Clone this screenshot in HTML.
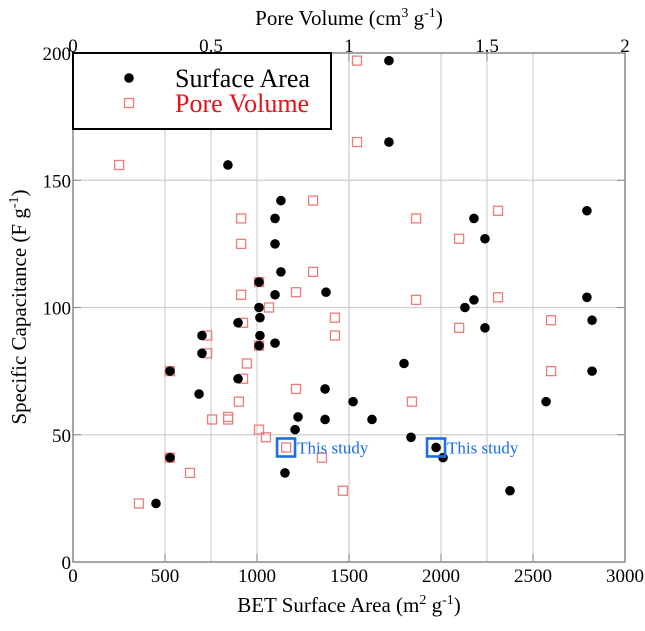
<!DOCTYPE html>
<html><head><meta charset="utf-8">
<style>
html,body{margin:0;padding:0;background:#fff;}
svg{display:block;font-family:"Liberation Serif",serif;}
</style></head>
<body>
<svg id="chart" width="645" height="631" viewBox="0 0 645 631" xmlns="http://www.w3.org/2000/svg">
<rect width="645" height="631" fill="#fff"/>
<g id="grid"></g>
<g id="marks"></g>
<g id="axes"></g>
<g>
<rect x="73" y="53" width="258" height="76" fill="#fff" stroke="#000" stroke-width="2"/>
<circle cx="129" cy="78" r="4.8" fill="#000"/>
<text x="175" y="87" font-size="26" fill="#000">Surface Area</text>
<rect x="124.5" y="98.5" width="9" height="9" fill="none" stroke="#ef7b7b" stroke-width="1.3"/>
<text x="175" y="112" font-size="26" fill="#e8101a">Pore Volume</text>
</g>
<text x="349" y="612" font-size="21" text-anchor="middle">BET Surface Area (m<tspan font-size="14" dy="-8">2</tspan><tspan dy="8"> g</tspan><tspan font-size="14" dy="-8">-1</tspan><tspan dy="8">)</tspan></text>
<text x="349" y="25" font-size="21" text-anchor="middle">Pore Volume (cm<tspan font-size="14" dy="-8">3</tspan><tspan dy="8"> g</tspan><tspan font-size="14" dy="-8">-1</tspan><tspan dy="8">)</tspan></text>
<text transform="translate(26,307) rotate(-90)" font-size="21" text-anchor="middle">Specific Capacitance (F g<tspan font-size="14" dy="-8">-1</tspan><tspan dy="8">)</tspan></text>
</svg>
<script>
const saX = [842,1130,1098,1098,1130,1011,1098,1375,1011,1016,897,701,1016,1098,701,1011,527,897,685,1370,1522,1223,1370,1207,527,1152,451,1717,1717,2179,2239,2793,2179,2130,2793,2821,2239,1799,2821,1625,2571,1837,1973,2011,2375];
const saY = [156,142,135,125,114,110,105,106,100,96,94,89,89,86,82,85,75,72,66,68,63,57,56,52,41,35,23,197,165,135,127,138,103,100,104,95,92,78,75,56,63,49,45,41,28];
const pvX = [0.167,0.870,0.609,0.609,0.870,0.674,0.609,0.808,0.710,0.949,0.616,0.949,0.486,0.486,0.674,0.630,0.351,0.616,0.601,0.808,0.504,0.562,0.562,0.674,0.699,0.772,0.902,0.351,0.424,0.239,0.978,1.029,1.029,1.243,1.540,1.399,1.243,1.540,1.732,1.399,1.732,1.228];
const pvY = [156,142,135,125,114,110,105,106,100,96,94,89,89,82,85,78,75,72,63,68,56,57,56,52,49,45,41,41,35,23,28,197,165,135,138,127,103,104,95,92,75,63];
const studySA = [1973, 45];
const studyPV = [0.772, 45];
const xTicks = [0,500,1000,1500,2000,2500,3000];
const topTicks = [0,0.5,1,1.5,2];
const yTicks = [0,50,100,150,200];

const L=73,R=625,T=53,B=562;
const xs = v => L + v/3000*(R-L);
const xp = v => L + v/2*(R-L);
const ys = v => B - v/200*(B-T);
const NS="http://www.w3.org/2000/svg";
function mk(tag, attrs, parent){const e=document.createElementNS(NS,tag);for(const k in attrs)e.setAttribute(k,attrs[k]);parent.appendChild(e);return e;}
const grid=document.getElementById('grid'), marks=document.getElementById('marks'), axes=document.getElementById('axes');

xTicks.slice(1,-1).forEach(t=>{const l=mk('line',{x1:xs(t),x2:xs(t),y1:T,y2:B,stroke:'#cfcfcf','stroke-width':1.2},grid);

});
topTicks.slice(1,-1).forEach(t=>{const l=mk('line',{x1:xp(t),x2:xp(t),y1:T,y2:B,stroke:'#cfcfcf','stroke-width':1.2},grid);

});
yTicks.slice(1,-1).forEach(t=>{const l=mk('line',{x1:L,x2:R,y1:ys(t),y2:ys(t),stroke:'#cfcfcf','stroke-width':1.2},grid);

});

pvX.forEach((v,i)=>{const r=mk('rect',{x:xp(v)-4.5,y:ys(pvY[i])-4.5,width:9,height:9,fill:'none',stroke:'#ef7b7b','stroke-width':1.3},marks);

});
saX.forEach((v,i)=>{const c=mk('circle',{cx:xs(v),cy:ys(saY[i]),r:4.8,fill:'#000'},marks);

});

[[xp(studyPV[0]),ys(studyPV[1])],[xs(studySA[0]),ys(studySA[1])]].forEach(p=>{
const b=mk('rect',{x:p[0]-9,y:p[1]-9,width:18,height:18,fill:'none',stroke:'#1a6fe0','stroke-width':2.6},marks);


const t=mk('text',{x:p[0]+11,y:p[1]+6,'font-size':17,fill:'#1a6fe0'},marks);
t.textContent='This study';

});

mk('rect',{x:L,y:T,width:R-L,height:B-T,fill:'none',stroke:'#888','stroke-width':1.5},axes);
xTicks.forEach(t=>{mk('line',{x1:xs(t),x2:xs(t),y1:B,y2:B-8,stroke:'#888'},axes);
const tx=mk('text',{x:xs(t),y:B+20,'font-size':19,'text-anchor':'middle'},axes);tx.textContent=t;

});
topTicks.forEach(t=>{mk('line',{x1:xp(t),x2:xp(t),y1:T,y2:T+8,stroke:'#888'},axes);
const tx=mk('text',{x:xp(t),y:T-1,'font-size':19,'text-anchor':'middle'},axes);tx.textContent=t;

});
yTicks.forEach(t=>{mk('line',{x1:L,x2:L+8,y1:ys(t),y2:ys(t),stroke:'#888'},axes);
mk('line',{x1:R,x2:R-8,y1:ys(t),y2:ys(t),stroke:'#888'},axes);
const tx=mk('text',{x:L-2,y:ys(t)+7,'font-size':19,'text-anchor':'end'},axes);tx.textContent=t;

});
</script>
</body></html>
